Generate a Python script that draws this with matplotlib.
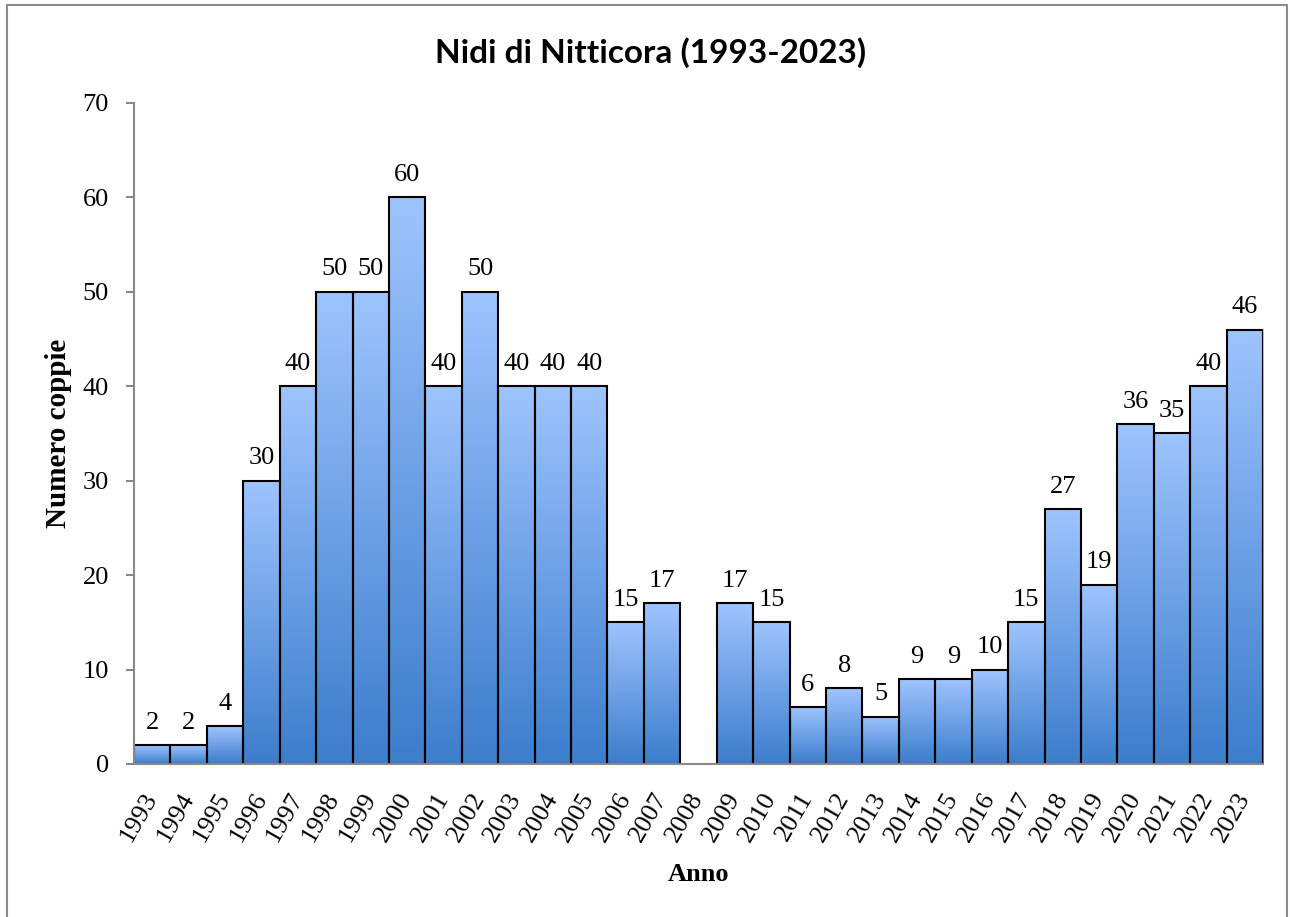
import matplotlib.pyplot as plt
import numpy as np
from matplotlib.colors import LinearSegmentedColormap
from matplotlib.patches import Rectangle

# dati: coppie nidificanti per anno (2008 senza dato)
anni = list(range(1993, 2024))
coppie = [2, 2, 4, 30, 40, 50, 50, 60, 40, 50, 40, 40, 40, 15, 17, None,
          17, 15, 6, 8, 5, 9, 9, 10, 15, 27, 19, 36, 35, 40, 46]

titolo = "Nidi di Nitticora (1993-2023)"
etichetta_x = "Anno"
etichetta_y = "Numero coppie"

serif = "Liberation Serif"
fs = 19
cmap = LinearSegmentedColormap.from_list("blu", ["#3C7DCC", "#9EC4FE"])
grad = np.linspace(0, 1, 256).reshape(-1, 1)

fig = plt.figure(figsize=(12.9, 9.17), dpi=100)
ax = fig.add_axes([0.1039, 0.1669, 0.8752, 0.7208])

# cornice grigia del grafico
fig.patches.append(Rectangle((7 / 1290, -0.05), 1280 / 1290, 1.05 - 5 / 917,
                             transform=fig.transFigure, fill=False,
                             edgecolor="#8c8c8c", linewidth=1.5))

x = np.arange(len(anni))
for xi, v in zip(x, coppie):
    if v is None:
        continue
    ax.imshow(grad, extent=[xi - 0.5, xi + 0.5, 0, v], origin="lower",
              aspect="auto", cmap=cmap, zorder=1)
    ax.bar(xi, v, width=1.0, fill=False, edgecolor="black", linewidth=1.5, zorder=2)
    ax.text(xi, v + 1.2, str(v), ha="center", va="bottom",
            fontsize=fs, family=serif)

ax.set_xlim(-0.5, len(anni) - 0.5)
ax.set_ylim(0, 70)
ax.set_yticks(range(0, 71, 10))
ax.set_xticks(x)
ax.set_xticklabels([str(a) for a in anni], rotation=60, ha="right", va="center",
                   rotation_mode="anchor", fontsize=fs, family=serif)
for lab in ax.get_yticklabels():
    lab.set_family(serif)
    lab.set_fontsize(fs)

for s in ["top", "right"]:
    ax.spines[s].set_visible(False)
for s in ["left", "bottom"]:
    ax.spines[s].set_color("#888888")
    ax.spines[s].set_linewidth(1.5)
ax.tick_params(axis="y", direction="out", length=6, width=1.5, color="#888888", pad=12)
ax.tick_params(axis="x", length=0, pad=22)

ax.set_xlabel(etichetta_x, fontsize=fs, family=serif, fontweight="bold", labelpad=12)
ax.set_ylabel(etichetta_y, fontsize=21, family=serif, fontweight="bold", labelpad=8)
fig.text(0.504, 0.943, titolo, ha="center", va="center", fontsize=24,
         family="Lato", fontweight="bold")

fig.savefig("out.png", dpi=100)
